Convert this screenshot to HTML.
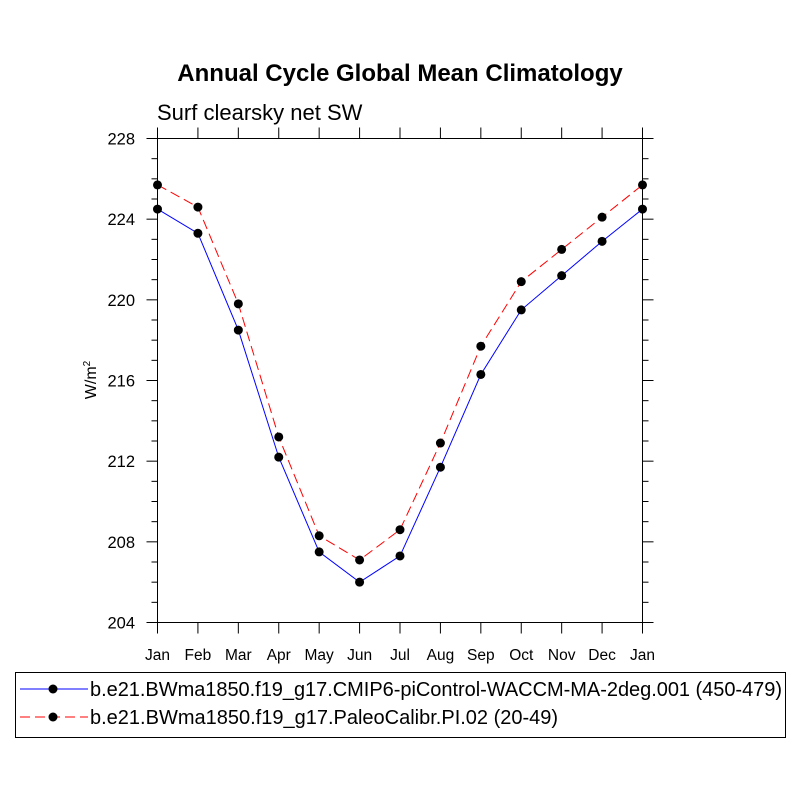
<!DOCTYPE html>
<html><head><meta charset="utf-8"><style>
body{margin:0;background:#fff}
text{font-family:"Liberation Sans",Arial,sans-serif}
</style></head><body>
<svg id="chart" width="800" height="800" xmlns="http://www.w3.org/2000/svg">
<rect width="800" height="800" fill="#fff"/>
<text x="400" y="81" text-anchor="middle" font-size="24" font-weight="bold">Annual Cycle Global Mean Climatology</text>
<text x="157" y="120" font-size="22">Surf clearsky net SW</text>
<text transform="translate(96,380) rotate(-90)" text-anchor="middle" font-size="16">W/m<tspan font-size="10" dy="-6">2</tspan></text>
<g id="axes"></g>
<g id="series"></g>
<g>
<rect x="15.5" y="672.5" width="770" height="65" fill="none" stroke="#000" stroke-width="1"/>
<line x1="20" y1="689" x2="88" y2="689" stroke="#00f" stroke-width="1"/>
<circle cx="53" cy="689" r="4.5" fill="#000"/>
<text x="90" y="696" font-size="20" textLength="692">b.e21.BWma1850.f19_g17.CMIP6-piControl-WACCM-MA-2deg.001 (450-479)</text>
<line x1="20" y1="717" x2="88" y2="717" stroke="#f00" stroke-width="1" stroke-dasharray="10,5"/>
<circle cx="53" cy="717" r="4.5" fill="#000"/>
<text x="90" y="724" font-size="20">b.e21.BWma1850.f19_g17.PaleoCalibr.PI.02 (20-49)</text>
</g>
</svg>
<script>
const months=["Jan","Feb","Mar","Apr","May","Jun","Jul","Aug","Sep","Oct","Nov","Dec","Jan"];
const controlVals=[224.5,223.3,218.5,212.2,207.5,206.0,207.3,211.7,216.3,219.5,221.2,222.9,224.5];
const paleoVals=[225.7,224.6,219.8,213.2,208.3,207.1,208.6,212.9,217.7,220.9,222.5,224.1,225.7];
const yTicks=[204,208,212,216,220,224,228];
const NS="http://www.w3.org/2000/svg";
const L=157.5,R=642.5,T=138.5,B=622.5,yMin=204,yMax=228;
const xs=i=>L+(R-L)*i/(months.length-1);
const ys=v=>B-(B-T)*(v-yMin)/(yMax-yMin);
function mk(tag,attrs,parent){const e=document.createElementNS(NS,tag);for(const k in attrs)e.setAttribute(k,attrs[k]);parent.appendChild(e);return e;}
const ax=document.getElementById('axes');
const frame=mk('rect',{x:L,y:T,width:R-L,height:B-T,fill:'none',stroke:'#000','stroke-width':1},ax);


months.forEach((m,i)=>{
  const x=xs(i);
  mk('line',{x1:x,y1:B,x2:x,y2:B+11,stroke:'#000'},ax);
  mk('line',{x1:x,y1:T,x2:x,y2:T-11,stroke:'#000'},ax);
  const t=mk('text',{x:x,y:660,'text-anchor':'middle','font-size':15.5},ax);
  t.textContent=m;
  
  
});
for(let v=yMin;v<=yMax;v++){
  const y=ys(v),maj=(v-yMin)%4===0,len=maj?11:6;
  mk('line',{x1:L,y1:y,x2:L-len,y2:y,stroke:'#000'},ax);
  mk('line',{x1:R,y1:y,x2:R+len,y2:y,stroke:'#000'},ax);
}
yTicks.forEach(v=>{
  const t=mk('text',{x:135,y:ys(v)+6,'text-anchor':'end','font-size':16.5},ax);
  t.textContent=v;
  
  
});
const sg=document.getElementById('series');
function draw(vals,color,dash,name){
  const p=mk('polyline',{points:vals.map((v,i)=>xs(i)+','+ys(v)).join(' '),fill:'none',stroke:color,'stroke-width':1,'stroke-dasharray':dash},sg);
  
  
  vals.forEach((v,i)=>{
    const c=mk('circle',{cx:xs(i),cy:ys(v),r:4.5,fill:'#000'},sg);
    
    
  });
}
draw(controlVals,'#00f','none','control-series');
draw(paleoVals,'#f00','10,5','paleo-series');
</script>
</body></html>
